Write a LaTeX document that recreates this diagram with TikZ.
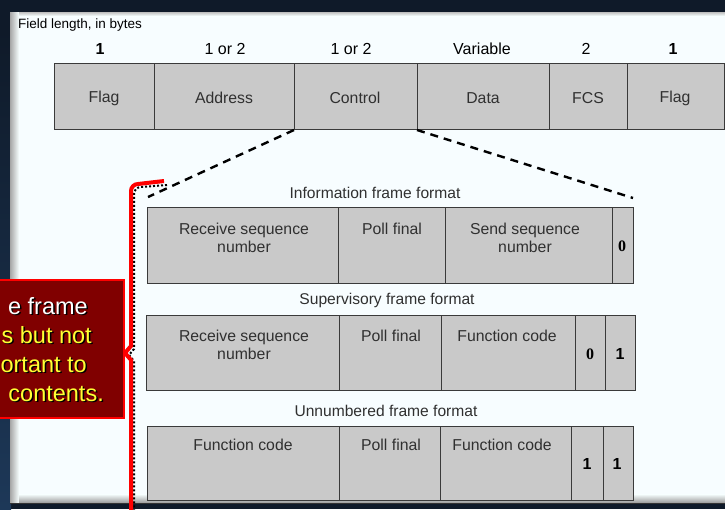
\documentclass[tikz,border=0pt]{standalone}
\usepackage{fontspec}
\setmainfont{Liberation Sans}
\newfontfamily\serifbold{Liberation Serif}
\definecolor{navy}{HTML}{0F1A29}
\definecolor{navyblue}{HTML}{1D3858}
\definecolor{cellgray}{HTML}{C9C9C9}
\definecolor{celledge}{HTML}{3A3A3A}
\definecolor{txtgray}{HTML}{303030}
\definecolor{callred}{HTML}{800000}
\definecolor{callyellow}{HTML}{FFFF33}
\tikzset{
  cellbox/.style={fill=cellgray, draw=celledge, line width=0.9pt},
  divider/.style={draw=celledge, line width=0.9pt},
  lbl/.style={font=\fontsize{15.8}{18}\selectfont, text=txtgray, inner sep=0pt, align=center},
  toplbl/.style={font=\fontsize{16}{18}\selectfont, text=black, inner sep=0pt},
  title/.style={font=\fontsize{15.6}{18}\selectfont, text=txtgray, inner sep=0pt},
  bitlbl/.style={font=\fontsize{16}{18}\selectfont\bfseries, text=black, inner sep=0pt},
  dashconn/.style={draw=black, line width=2.4pt, dash pattern=on 8pt off 6pt},
  calltxt/.style={font=\fontsize{23.5}{28}\selectfont, inner sep=0pt, anchor=base east},
}
\begin{document}
\begin{tikzpicture}[x=1pt,y=-1pt]
\useasboundingbox (0,0) rectangle (725,509);
\clip (0,0) rectangle (725,509);
% background
\fill[navy] (0,0) rectangle (725,509);
\shade[top color=navy, bottom color=navyblue] (0,30) rectangle (11,509);
% white panel with shadow
\fill[white!97!cyan] (10,12) rectangle (730,503);
\shade[left color=gray!70, right color=white!97!cyan] (10,12) rectangle (19,503);
\shade[top color=gray!50, bottom color=white!97!cyan] (19,12) rectangle (730,16);
\shade[top color=white!97!cyan, bottom color=gray!80] (19,494) rectangle (730,503);
\draw[black!80, line width=1pt] (10,503.5) -- (730,503.5);

% field length labels
\node[font=\fontsize{13.5}{15}\selectfont, inner sep=0pt, anchor=west] (fl) at (18,25) {Field length, in bytes};
\node[toplbl, font=\fontsize{16}{18}\selectfont\bfseries] (n1) at (100,49) {1};
\node[toplbl] (n2) at (225,49) {1 or 2};
\node[toplbl] (n3) at (351,49) {1 or 2};
\node[toplbl] (n4) at (482,49) {Variable};
\node[toplbl] (n5) at (586,49) {2};
\node[toplbl, font=\fontsize{16}{18}\selectfont\bfseries] (n6) at (673,49) {1};

% top frame
\draw[cellbox] (54,63) rectangle (724,129);
\foreach \x in {154,294,417,549,627} \draw[divider] (\x,63) -- (\x,129);
\node[lbl] (flag1) at (104,98) {Flag};
\node[lbl] (addr) at (224,98) {Address};
\node[lbl] (ctrl) at (355,98) {Control};
\node[lbl] (data) at (483,98) {Data};
\node[lbl] (fcs) at (588,98) {FCS};
\node[lbl] (flag2) at (675,98) {Flag};
\coordinate (ctlL) at (294,130);
\coordinate (ctlR) at (417,130);
\coordinate (infoL) at (148,197);
\coordinate (infoR) at (633,198);
\draw[dashconn] (ctlL) -- (infoL);
\draw[dashconn] (ctlR) -- (infoR);

% information frame
\node[title] (ti) at (375,193) {Information frame format};
\draw[cellbox] (147,207) rectangle (633,283);
\foreach \x in {338,445,612} \draw[divider] (\x,207) -- (\x,283);
\node[lbl] (i1) at (244,238) {Receive sequence\\number};
\node[lbl] (i2) at (392,229) {Poll final};
\node[lbl] (i3) at (525,238) {Send sequence\\number};
\node[bitlbl, font=\fontsize{16}{18}\selectfont\serifbold\bfseries] (i4) at (622,246) {0};

% supervisory frame
\node[title] (ts) at (387,300) {Supervisory frame format};
\draw[cellbox] (146,315) rectangle (635,390);
\foreach \x in {339,441,575,605} \draw[divider] (\x,315) -- (\x,390);
\node[lbl] (s1) at (244,345) {Receive sequence\\number};
\node[lbl] (s2) at (391,336) {Poll final};
\node[lbl] (s3) at (507,336) {Function code};
\node[bitlbl, font=\fontsize{16}{18}\selectfont\serifbold\bfseries] (s4) at (590,354) {0};
\node[bitlbl] (s5) at (620,354) {1};

% unnumbered frame
\node[title] (tu) at (386,411) {Unnumbered frame format};
\draw[cellbox] (147,426) rectangle (633,500);
\foreach \x in {339,440,571,603} \draw[divider] (\x,426) -- (\x,500);
\node[lbl] (u1) at (243,445) {Function code};
\node[lbl] (u2) at (391,445) {Poll final};
\node[lbl] (u3) at (502,445) {Function code};
\node[bitlbl] (u4) at (587,464) {1};
\node[bitlbl] (u5) at (617,464) {1};

% brace with dotted shadow
\draw[black, line width=2pt, dotted] (167,185) -- (141,187) to[out=180,in=90] (134,194) -- (134,349) -- (129,355) -- (134,361) -- (134,512);
\draw[red, line width=4pt, line join=miter] (164,181) -- (138,184) to[out=180,in=90] (131,191) -- (131,346) -- (125,353) -- (131,360) -- (131,512);

% callout
\draw[fill=callred, draw=red, line width=2pt] (-5,280) rectangle (124,418);
\begin{scope}[shift={(1.5,1.5)}]
\node[calltxt, text=black] (c1s) at (88,314) {e frame};
\node[calltxt, text=black] (c2s) at (92,343) {s but not};
\node[calltxt, text=black] (c3s) at (87,372) {ortant to};
\node[calltxt, text=black] (c4s) at (104,401) {contents.};
\end{scope}
\node[calltxt, text=white] (c1) at (88,314) {e frame};
\node[calltxt, text=callyellow] (c2) at (92,343) {s but not};
\node[calltxt, text=callyellow] (c3) at (87,372) {ortant to};
\node[calltxt, text=callyellow] (c4) at (104,401) {contents.};
\end{tikzpicture}
\end{document}
